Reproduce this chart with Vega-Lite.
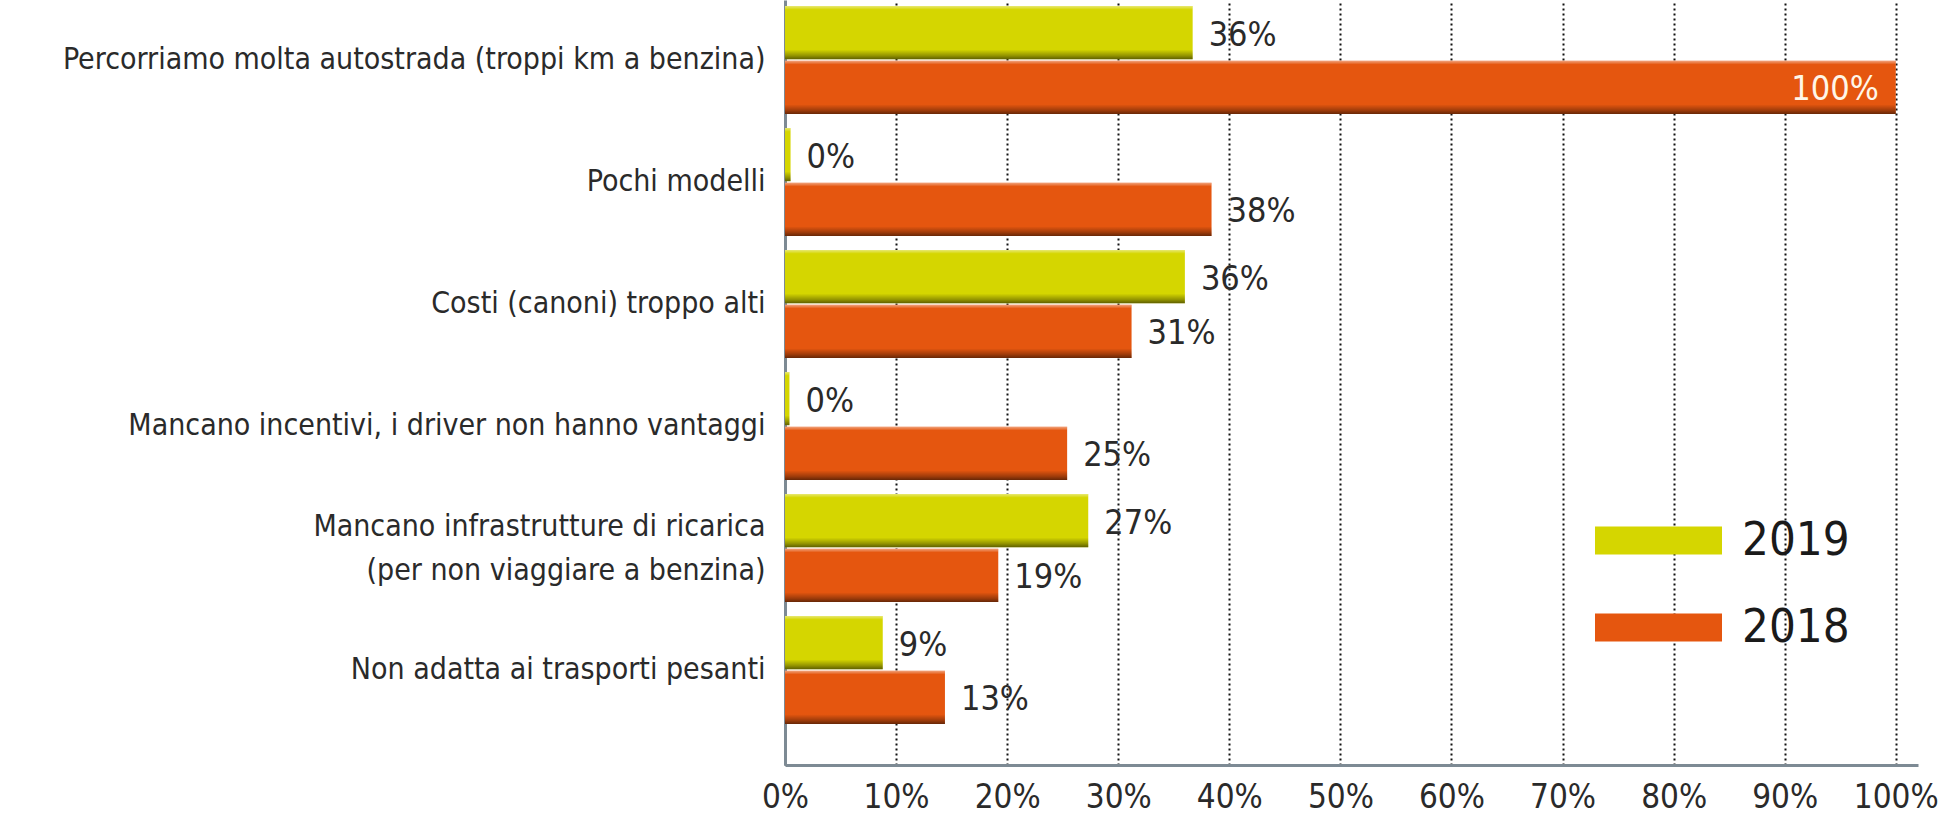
{
  "$schema": "https://vega.github.io/schema/vega-lite/v6.json",
  "autosize": "none",
  "width": 1133,
  "height": 765,
  "padding": {"left": 785, "top": 0, "right": 27, "bottom": 54},
  "background": "white",
  "config": {
    "view": {"stroke": null},
    "font": "DejaVu Sans Condensed, Roboto, sans-serif"
  },
  "data": {
    "values": [
      {"cat": "Percorriamo molta autostrada (troppi km a benzina)", "year": "2019", "value": 36.7, "label": "36%"},
      {"cat": "Percorriamo molta autostrada (troppi km a benzina)", "year": "2018", "value": 100, "label": "100%"},
      {"cat": "Pochi modelli", "year": "2019", "value": 0.5, "label": "0%"},
      {"cat": "Pochi modelli", "year": "2018", "value": 38.4, "label": "38%"},
      {"cat": "Costi (canoni) troppo alti", "year": "2019", "value": 36.0, "label": "36%"},
      {"cat": "Costi (canoni) troppo alti", "year": "2018", "value": 31.2, "label": "31%"},
      {"cat": "Mancano incentivi, i driver non hanno vantaggi", "year": "2019", "value": 0.4, "label": "0%"},
      {"cat": "Mancano incentivi, i driver non hanno vantaggi", "year": "2018", "value": 25.4, "label": "25%"},
      {"cat": "Mancano infrastrutture di ricarica|(per non viaggiare a benzina)", "year": "2019", "value": 27.3, "label": "27%"},
      {"cat": "Mancano infrastrutture di ricarica|(per non viaggiare a benzina)", "year": "2018", "value": 19.2, "label": "19%"},
      {"cat": "Non adatta ai trasporti pesanti", "year": "2019", "value": 8.8, "label": "9%"},
      {"cat": "Non adatta ai trasporti pesanti", "year": "2018", "value": 14.4, "label": "13%"}
    ]
  },
  "encoding": {
    "y": {
      "field": "cat", "type": "nominal", "sort": null,
      "scale": {"paddingInner": 0.115, "paddingOuter": 0.193, "align": 0.128},
      "axis": {
        "title": null, "ticks": false,
        "labelExpr": "split(datum.label, '|')",
        "labelOffset": {"condition": {"test": "indexof(datum.value, '|') >= 0", "value": -21}, "value": 0},
        "labelFont": "DejaVu Sans Condensed, Roboto, sans-serif", "labelFontSize": 30, "labelLineHeight": 44,
        "labelColor": "#2a2a2a", "labelPadding": 20, "labelLimit": 0,
        "domainColor": "#7d8a94", "domainWidth": 3
      }
    },
    "yOffset": {"field": "year", "type": "nominal", "sort": ["2019", "2018"], "scale": {"paddingInner": 0.03}},
    "x": {
      "field": "value", "type": "quantitative",
      "scale": {"domain": [0, 102], "nice": false, "zero": true},
      "axis": {
        "title": null, "values": [0, 10, 20, 30, 40, 50, 60, 70, 80, 90, 100],
        "labelExpr": "datum.value + '%'", "labelFlush": false,
        "ticks": false, "grid": true, "gridColor": "#111111", "gridDash": [2, 3], "gridWidth": 2,
        "labelFont": "DejaVu Sans Condensed, Roboto, sans-serif", "labelFontSize": 33, "labelColor": "#2a2a2a",
        "labelBaseline": "middle", "labelPadding": 32,
        "domainColor": "#7d8a94", "domainWidth": 3
      }
    }
  },
  "layer": [
    {
      "mark": {"type": "bar"},
      "encoding": {
        "color": {
          "field": "year", "type": "nominal",
          "scale": {"domain": ["2019", "2018"], "range": ["#d5d600", "#e5560f"]},
          "legend": {
            "title": null, "orient": "none", "legendX": 810, "legendY": 477,
            "symbolType": "M-1,-0.22L1,-0.22L1,0.22L-1,0.22Z", "symbolSize": 16129,
            "symbolStrokeWidth": 0, "symbolOpacity": 1,
            "labelFont": "DejaVu Sans Condensed, Roboto, sans-serif", "labelFontSize": 47, "labelColor": "#1a1a1a",
            "labelOffset": 20, "rowPadding": -1
          }
        }
      }
    },
    {
      "mark": {
        "type": "bar",
        "fill": {
          "gradient": "linear", "x1": 0, "y1": 0, "x2": 0, "y2": 1,
          "stops": [
            {"offset": 0, "color": "rgba(255,255,255,0.45)"},
            {"offset": 0.07, "color": "rgba(255,255,255,0.0)"},
            {"offset": 0.82, "color": "rgba(0,0,0,0.0)"},
            {"offset": 0.93, "color": "rgba(0,0,0,0.3)"},
            {"offset": 1, "color": "rgba(0,0,0,0.55)"}
          ]
        }
      },
      "encoding": {}
    },
    {
      "transform": [{"filter": "datum.value < 100"}],
      "mark": {"type": "text", "align": "left", "baseline": "middle", "dx": 16, "dy": 3, "fontSize": 34, "font": "DejaVu Sans Condensed, Roboto, sans-serif", "color": "#2a2a2a"},
      "encoding": {"text": {"field": "label"}}
    },
    {
      "transform": [{"filter": "datum.value >= 100"}],
      "mark": {"type": "text", "align": "right", "baseline": "middle", "dx": -17, "dy": 3, "fontSize": 34, "font": "DejaVu Sans Condensed, Roboto, sans-serif", "color": "#fff6e8"},
      "encoding": {"text": {"field": "label"}}
    }
  ]
}
